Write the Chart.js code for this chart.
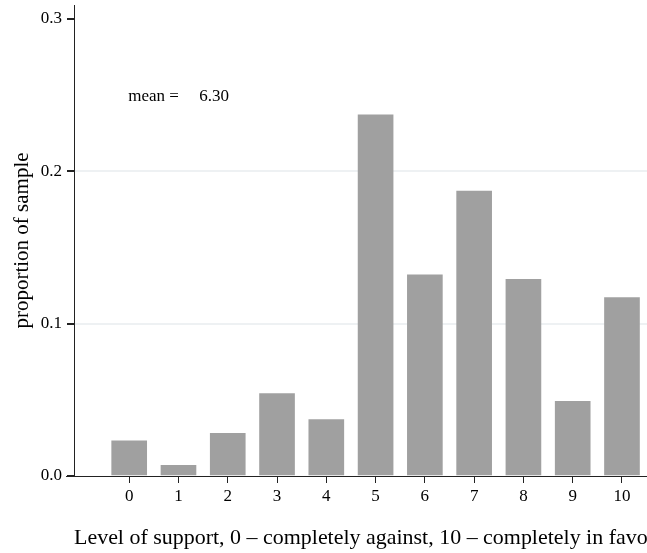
<!DOCTYPE html>
<html>
<head>
<meta charset="utf-8">
<script src="https://cdn.jsdelivr.net/npm/chart.js@4"></script>
<style>
  html, body { margin: 0; padding: 0; background: #fff; overflow: hidden; }
  #wrap { width: 665px; height: 553px; }
</style>
</head>
<body>
<div id="wrap"><canvas id="myChart"></canvas></div>
<script>
// support level 0..10 and share of sample
var levels = [0, 1, 2, 3, 4, 5, 6, 7, 8, 9, 10];
var proportions = [0.023, 0.007, 0.028, 0.054, 0.037, 0.237, 0.132, 0.187, 0.129, 0.049, 0.117];
var yTicks = [0, 0.1, 0.2, 0.3];
var xTicks = levels;
var meanLabel = "mean =";
var meanValue = "6.30";

var serif = "'Liberation Serif', 'Times New Roman', serif";

// small annotations + left overhang of the x axis line
const extras = {
  id: 'extras',
  afterDraw(chart) {
    const ctx = chart.ctx;
    const xs = chart.scales.x, ys = chart.scales.y;
    const area = chart.chartArea;
    ctx.save();
    ctx.strokeStyle = '#222';
    ctx.lineWidth = 1;
    ctx.beginPath();
    ctx.moveTo(66, area.bottom + 0.5);
    ctx.lineTo(area.left, area.bottom + 0.5);
    ctx.stroke();

    ctx.fillStyle = '#000';
    ctx.font = "17px " + serif;
    ctx.textBaseline = 'middle';
    ctx.textAlign = 'left';
    ctx.fillText(meanLabel, xs.getPixelForValue(-0.02), ys.getPixelForValue(0.249));
    ctx.fillText(meanValue, xs.getPixelForValue(1.42), ys.getPixelForValue(0.249));
    ctx.restore();
  }
};

const data = {
  datasets: [{
    data: levels.map((l, i) => ({ x: l, y: proportions[i] })),
    backgroundColor: '#a0a0a0',
    borderWidth: 0,
    barThickness: 35
  }]
};

const config = {
  type: 'bar',
  data: data,
  options: {
    responsive: true,
    maintainAspectRatio: false,
    animation: false,
    layout: { padding: { top: 5, right: 10, left: 0, bottom: 0 } },
    plugins: { legend: { display: false }, tooltip: { enabled: false } },
    scales: {
      x: {
        type: 'linear',
        offset: false,
        min: -1.12,
        max: 10.67,
        afterBuildTicks: s => { s.ticks = xTicks.map(v => ({ value: v })); },
        afterFit: s => { s.height = 77; },
        grid: { offset: false, drawOnChartArea: false, drawTicks: true, tickLength: 7, tickColor: '#222' },
        border: { color: '#222', width: 1 },
        ticks: { color: '#000', font: { family: serif, size: 17 }, padding: 3, maxRotation: 0 },
        title: {
          display: true,
          text: 'Level of support, 0 \u2013 completely against, 10 \u2013 completely in favor',
          color: '#000',
          font: { family: serif, size: 22 },
          padding: 2
        }
      },
      y: {
        min: 0,
        max: 0.309,
        afterBuildTicks: s => { s.ticks = yTicks.map(v => ({ value: v })); },
        afterFit: s => { s.width = 74; s.paddingTop = 0; s.paddingBottom = 0; },
        grid: {
          color: c => (c.tick && (c.tick.value === 0.1 || c.tick.value === 0.2)) ? '#eef1f3' : 'rgba(0,0,0,0)',
          tickColor: '#222',
          tickLength: 7,
          lineWidth: 2
        },
        border: { color: '#222', width: 1 },
        ticks: {
          color: '#000',
          font: { family: serif, size: 17 },
          padding: 5,
          callback: v => v.toFixed(1)
        },
        title: {
          display: true,
          text: 'proportion of sample',
          color: '#000',
          font: { family: serif, size: 21 },
          padding: 10
        }
      }
    }
  },
  plugins: [extras]
};

var ctx = document.getElementById('myChart').getContext('2d');
var myChart = new Chart(ctx, config);
</script>
</body>
</html>
